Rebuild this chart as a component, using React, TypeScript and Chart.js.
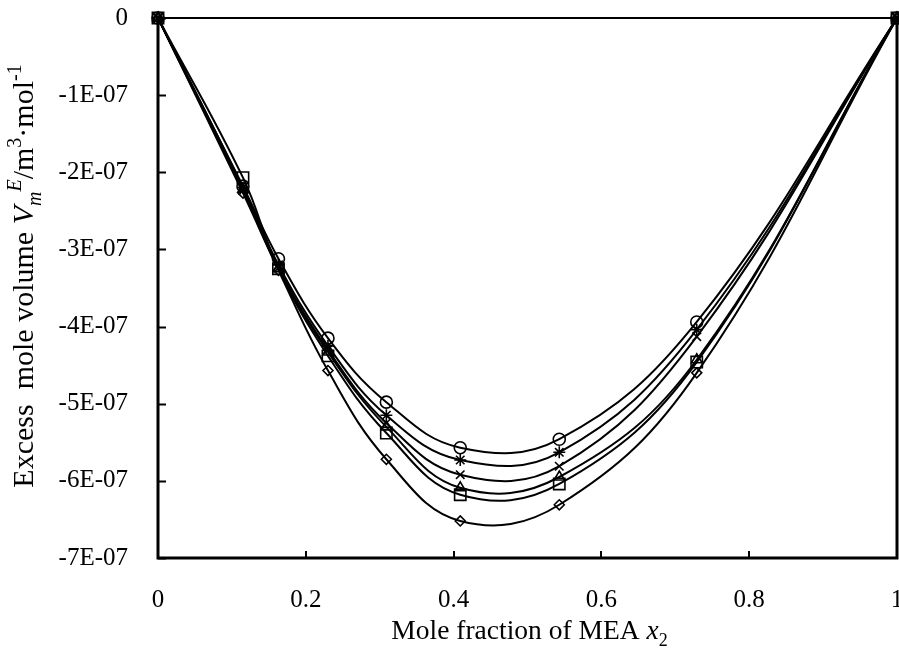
import React, { useEffect, useRef } from 'react';
import { Chart, registerables } from 'chart.js';

Chart.register(...registerables);

// Mole fraction of MEA (x2) at which data were measured
const X_FRACTION = [0, 0.115, 0.163, 0.23, 0.309, 0.409, 0.543, 0.729, 1];

// Excess molar volume, m^3/mol, one array per series (marker)
const V_CIRCLE = [0, -2.18e-7, -3.12e-7, -4.15e-7, -4.98e-7, -5.57e-7, -5.46e-7, -3.94e-7, 0];
const V_STAR = [0, -2.2e-7, -3.2e-7, -4.25e-7, -5.15e-7, -5.73e-7, -5.63e-7, -4.04e-7, 0];
const V_CROSS = [0, -2.24e-7, -3.24e-7, -4.3e-7, -5.25e-7, -5.92e-7, -5.81e-7, -4.13e-7, 0];
const V_TRIANGLE = [0, -2.22e-7, -3.25e-7, -4.33e-7, -5.3e-7, -6.09e-7, -5.95e-7, -4.43e-7, 0];
const V_SQUARE = [0, -2.07e-7, -3.25e-7, -4.38e-7, -5.38e-7, -6.18e-7, -6.04e-7, -4.46e-7, 0];
const V_DIAMOND = [0, -2.27e-7, -3.27e-7, -4.57e-7, -5.72e-7, -6.52e-7, -6.31e-7, -4.6e-7, 0];

const X_TICKS = [0, 0.2, 0.4, 0.6, 0.8, 1];
const X_TICK_LABELS = ['0', '0.2', '0.4', '0.6', '0.8', '1'];
const Y_TICKS = [0, -1e-7, -2e-7, -3e-7, -4e-7, -5e-7, -6e-7, -7e-7];
const Y_TICK_LABELS = ['0', '-1E-07', '-2E-07', '-3E-07', '-4E-07', '-5E-07', '-6E-07', '-7E-07'];

const SERIES = [
  { name: 'circle', values: V_CIRCLE, style: 'circle', radius: 6 },
  { name: 'star', values: V_STAR, style: 'star', radius: 6 },
  { name: 'cross', values: V_CROSS, style: 'crossRot', radius: 6 },
  { name: 'triangle', values: V_TRIANGLE, style: 'triangle', radius: 6 },
  { name: 'square', values: V_SQUARE, style: 'rect', radius: 8 },
  { name: 'diamond', values: V_DIAMOND, style: 'rectRot', radius: 5 },
];

const FONT = '"Liberation Serif", "Times New Roman", serif';
const PLOT_RIGHT = 897;

type Seg = { t: string; italic?: boolean; kind?: 'sub' | 'sup' };

function drawRich(ctx: CanvasRenderingContext2D, segs: Seg[], cx: number, baseY: number, size: number) {
  const small = Math.round(size * 0.65);
  const fontOf = (s: Seg) => `${s.italic ? 'italic ' : ''}${s.kind ? small : size}px ${FONT}`;
  let total = 0;
  for (const s of segs) {
    ctx.font = fontOf(s);
    total += ctx.measureText(s.t).width;
  }
  let x = cx - total / 2;
  ctx.textAlign = 'left';
  ctx.textBaseline = 'alphabetic';
  for (const s of segs) {
    ctx.font = fontOf(s);
    const dy = s.kind === 'sub' ? size * 0.25 : s.kind === 'sup' ? -size * 0.4 : 0;
    ctx.fillText(s.t, x, baseY + dy);
    x += ctx.measureText(s.t).width;
  }
}

const framePlugin = {
  id: 'frame',
  afterLayout(chart: any) {
    const xs = chart.scales.x;
    chart.chartArea.right = PLOT_RIGHT;
    chart.chartArea.width = PLOT_RIGHT - chart.chartArea.left;
    xs.right = PLOT_RIGHT;
    xs.width = PLOT_RIGHT - xs.left;
    xs.configure();
  },
  afterDatasetsDraw(chart: any) {
    const { ctx, chartArea } = chart;
    const { left, right, top, bottom } = chartArea;
    ctx.save();
    ctx.strokeStyle = '#000';
    ctx.lineCap = 'square';
    ctx.lineWidth = 2;
    ctx.beginPath();
    ctx.moveTo(left, top);
    ctx.lineTo(right, top);
    ctx.stroke();
    ctx.lineWidth = 3;
    ctx.beginPath();
    ctx.moveTo(left, top);
    ctx.lineTo(left, bottom);
    ctx.lineTo(right, bottom);
    ctx.lineTo(right, top);
    ctx.stroke();
    ctx.lineWidth = 2;
    ctx.lineCap = 'butt';
    const xs = chart.scales.x;
    const ys = chart.scales.y;
    ctx.beginPath();
    for (const v of X_TICKS) {
      const px = Math.round(xs.getPixelForValue(v));
      ctx.moveTo(px, bottom);
      ctx.lineTo(px, bottom - 7);
    }
    for (const v of Y_TICKS) {
      const py = Math.round(ys.getPixelForValue(v)) + 0.5;
      ctx.moveTo(left, py);
      ctx.lineTo(left + 8, py);
    }
    ctx.stroke();

    ctx.fillStyle = '#000';
    drawRich(
      ctx,
      [{ t: 'Mole fraction of MEA ' }, { t: 'x', italic: true }, { t: '2', kind: 'sub' }],
      (left + right) / 2 + 2,
      639,
      27.5
    );
    ctx.translate(23, 276);
    ctx.rotate(-Math.PI / 2);
    drawRich(
      ctx,
      [
        { t: 'Excess  mole volume ' },
        { t: 'V', italic: true },
        { t: 'm', italic: true, kind: 'sub' },
        { t: 'E', italic: true, kind: 'sup' },
        { t: '/m' },
        { t: '3', kind: 'sup' },
        { t: '·mol' },
        { t: '-1', kind: 'sup' },
      ],
      0,
      10,
      30
    );
    ctx.restore();
  },
};

export default function App() {
  const canvasRef = useRef<HTMLCanvasElement | null>(null);

  useEffect(() => {
    const canvas = canvasRef.current;
    if (!canvas) return;
    const chart = new Chart(canvas, {
      type: 'line',
      data: {
        datasets: SERIES.map((s) => ({
          label: s.name,
          data: X_FRACTION.map((x, i) => ({ x, y: s.values[i] })),
          borderColor: '#000',
          borderWidth: 2,
          tension: 0.4,
          pointStyle: s.style as any,
          pointRadius: s.radius,
          pointBorderColor: '#000',
          pointBackgroundColor: 'rgba(0,0,0,0)',
          pointBorderWidth: 1.6,
          clip: false as any,
        })),
      },
      options: {
        animation: false,
        responsive: false,
        devicePixelRatio: 1,
        layout: { padding: { top: 18, right: 2, left: 0, bottom: 0 } },
        plugins: { legend: { display: false }, tooltip: { enabled: false }, title: { display: false } },
        scales: {
          x: {
            type: 'linear',
            min: 0,
            max: 1,
            grid: { display: false, drawTicks: false },
            border: { display: false },
            afterBuildTicks: (scale: any) => {
              scale.ticks = X_TICKS.map((v) => ({ value: v }));
            },
            afterFit: (scale: any) => {
              scale.height = 92;
              scale.paddingLeft = 0;
              scale.paddingRight = 0;
            },
            ticks: {
              padding: 27,
              color: '#000',
              font: { family: FONT, size: 25 },
              maxRotation: 0,
              autoSkip: false,
              callback: (v: any) => {
                const i = X_TICKS.findIndex((t) => Math.abs(t - Number(v)) < 1e-9);
                return i >= 0 ? X_TICK_LABELS[i] : '';
              },
            },
          },
          y: {
            type: 'linear',
            min: -7e-7,
            max: 0,
            grid: { display: false, drawTicks: false },
            border: { display: false },
            afterBuildTicks: (scale: any) => {
              scale.ticks = Y_TICKS.map((v) => ({ value: v }));
            },
            afterFit: (scale: any) => {
              scale.width = 158;
              scale.paddingTop = 0;
              scale.paddingBottom = 0;
            },
            ticks: {
              padding: 30,
              color: '#000',
              font: { family: FONT, size: 25 },
              autoSkip: false,
              callback: (v: any) => {
                const i = Y_TICKS.findIndex((t) => Math.abs(t - Number(v)) < 1e-12);
                return i >= 0 ? Y_TICK_LABELS[i] : '';
              },
            },
          },
        },
      },
      plugins: [framePlugin],
    });
    return () => chart.destroy();
  }, []);

  return (
    <div style={{ position: 'absolute', left: 0, top: 0, width: 899, height: 650, background: '#fff' }}>
      <canvas ref={canvasRef} width={899} height={650} />
    </div>
  );
}
